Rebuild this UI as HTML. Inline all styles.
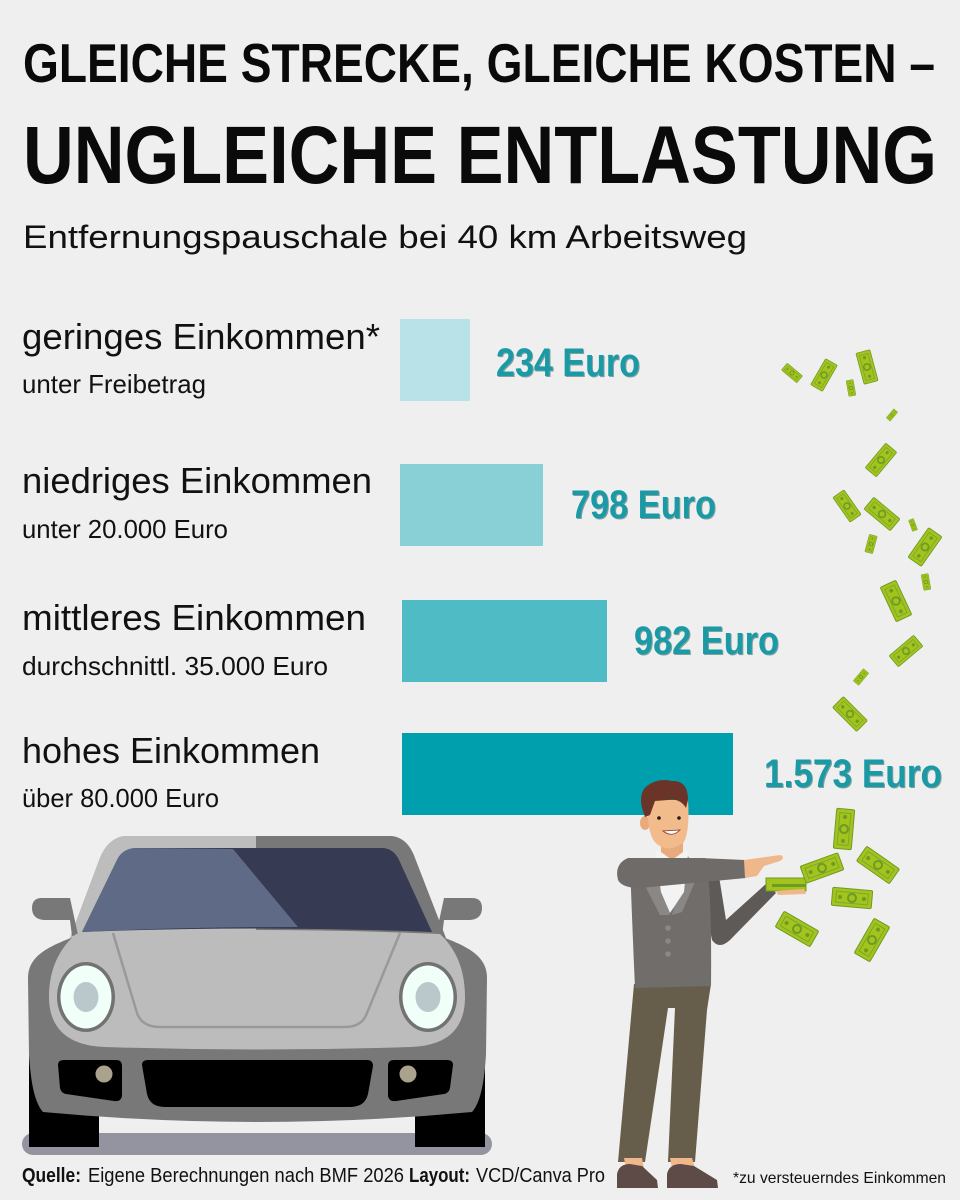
<!DOCTYPE html>
<html><head><meta charset="utf-8">
<style>
html,body{margin:0;padding:0;background:#efefef;}
svg{display:block;}
text{font-family:"Liberation Sans",sans-serif;}
</style></head>
<body>
<svg width="960" height="1200" viewBox="0 0 960 1200" xmlns="http://www.w3.org/2000/svg">
<defs>
  <g id="bill">
    <rect x="-20" y="-9" width="40" height="18" rx="1.5" fill="#a3c41d" stroke="#6f9a25" stroke-width="1"/>
    <rect x="-16" y="-5.5" width="32" height="11" fill="none" stroke="#7ea72a" stroke-width="1"/>
    <circle cx="0" cy="0" r="5" fill="#6f9a25"/>
    <circle cx="0" cy="0" r="3" fill="#a3c41d"/>
    <circle cx="-12" cy="0" r="2" fill="#6f9a25"/>
    <circle cx="12" cy="0" r="2" fill="#6f9a25"/>
  </g>
  <clipPath id="leftHalf"><rect x="0" y="0" width="256" height="1200"/></clipPath>
</defs>
<rect x="0" y="0" width="960" height="1200" fill="#efefef"/>

<!-- Title -->
<text x="23" y="82" font-size="55" font-weight="bold" fill="#0a0a0a" textLength="912" lengthAdjust="spacingAndGlyphs">GLEICHE STRECKE, GLEICHE KOSTEN –</text>
<text x="23" y="183" font-size="82" font-weight="bold" fill="#0a0a0a" textLength="914" lengthAdjust="spacingAndGlyphs">UNGLEICHE ENTLASTUNG</text>
<text x="23" y="248" font-size="32" fill="#111" textLength="724" lengthAdjust="spacingAndGlyphs">Entfernungspauschale bei 40 km Arbeitsweg</text>

<!-- Bars -->
<rect x="400" y="319" width="70" height="82" fill="#b8e2e7"/>
<rect x="400" y="464" width="143" height="82" fill="#88d0d6"/>
<rect x="402" y="600" width="205" height="82" fill="#4fbbc5"/>
<rect x="402" y="733" width="331" height="82" fill="#009fad"/>

<!-- Labels -->
<text x="22" y="349" font-size="36" fill="#111" textLength="358" lengthAdjust="spacingAndGlyphs">geringes Einkommen*</text>
<text x="22" y="393" font-size="26" fill="#111" textLength="184" lengthAdjust="spacingAndGlyphs">unter Freibetrag</text>
<text x="22" y="493" font-size="36" fill="#111" textLength="350" lengthAdjust="spacingAndGlyphs">niedriges Einkommen</text>
<text x="22" y="538" font-size="26" fill="#111" textLength="206" lengthAdjust="spacingAndGlyphs">unter 20.000 Euro</text>
<text x="22" y="630" font-size="36" fill="#111" textLength="344" lengthAdjust="spacingAndGlyphs">mittleres Einkommen</text>
<text x="22" y="675" font-size="26" fill="#111" textLength="306" lengthAdjust="spacingAndGlyphs">durchschnittl. 35.000 Euro</text>
<text x="22" y="763" font-size="36" fill="#111" textLength="298" lengthAdjust="spacingAndGlyphs">hohes Einkommen</text>
<text x="22" y="807" font-size="26" fill="#111" textLength="197" lengthAdjust="spacingAndGlyphs">über 80.000 Euro</text>

<!-- Values -->
<g font-weight="bold" font-size="40">
  <text x="497" y="377" fill="#2f5f63" opacity="0.55" textLength="144" lengthAdjust="spacingAndGlyphs">234 Euro</text>
  <text x="496" y="376" fill="#1a9aa5" textLength="144" lengthAdjust="spacingAndGlyphs">234 Euro</text>
  <text x="572" y="519" fill="#2f5f63" opacity="0.55" textLength="145" lengthAdjust="spacingAndGlyphs">798 Euro</text>
  <text x="571" y="518" fill="#1a9aa5" textLength="145" lengthAdjust="spacingAndGlyphs">798 Euro</text>
  <text x="635" y="655" fill="#2f5f63" opacity="0.55" textLength="145" lengthAdjust="spacingAndGlyphs">982 Euro</text>
  <text x="634" y="654" fill="#1a9aa5" textLength="145" lengthAdjust="spacingAndGlyphs">982 Euro</text>
  <text x="765" y="788" fill="#2f5f63" opacity="0.55" textLength="178" lengthAdjust="spacingAndGlyphs">1.573 Euro</text>
  <text x="764" y="787" fill="#1a9aa5" textLength="178" lengthAdjust="spacingAndGlyphs">1.573 Euro</text>
</g>

<!-- Flying money upper -->
<use href="#bill" transform="translate(792,373) rotate(40) scale(0.5)"/>
<use href="#bill" transform="translate(824,375) rotate(-60) scale(0.75)"/>
<use href="#bill" transform="translate(851,388) rotate(80) scale(0.4)"/>
<use href="#bill" transform="translate(867,367) rotate(75) scale(0.8)"/>
<use href="#bill" transform="translate(892,415) rotate(-50) scale(0.3)"/>
<use href="#bill" transform="translate(881,460) rotate(-50) scale(0.8)"/>
<use href="#bill" transform="translate(847,506) rotate(55) scale(0.75)"/>
<use href="#bill" transform="translate(882,514) rotate(40) scale(0.85)"/>
<use href="#bill" transform="translate(913,525) rotate(70) scale(0.3)"/>
<use href="#bill" transform="translate(871,544) rotate(-75) scale(0.45)"/>
<use href="#bill" transform="translate(925,547) rotate(-55) scale(0.9)"/>
<use href="#bill" transform="translate(926,582) rotate(80) scale(0.4)"/>
<use href="#bill" transform="translate(896,601) rotate(65) scale(0.95)"/>
<use href="#bill" transform="translate(906,651) rotate(-40) scale(0.8)"/>
<use href="#bill" transform="translate(861,677) rotate(-50) scale(0.4)"/>
<use href="#bill" transform="translate(850,714) rotate(45) scale(0.85)"/>

<!-- Car -->
<rect x="22" y="1133" width="470" height="22" rx="11" fill="#9494a0"/>
<rect x="29" y="1040" width="70" height="107" fill="#000"/>
<rect x="415" y="1040" width="70" height="107" fill="#000"/>
<!-- roof -->
<path d="M70,938 L100,858 Q108,838 125,836 L392,836 Q408,838 415,858 L446,938 Z" fill="#787878"/>
<path d="M70,938 L100,858 Q108,838 125,836 L392,836 Q408,838 415,858 L446,938 Z" fill="#bdbdbd" clip-path="url(#leftHalf)"/>
<!-- mirrors -->
<path d="M32,908 Q32,898 42,898 L70,898 L78,935 L72,936 L70,920 L44,920 Q32,919 32,908 Z" fill="#787878"/>
<path d="M482,908 Q482,898 472,898 L444,898 L436,935 L442,936 L444,920 L470,920 Q482,919 482,908 Z" fill="#787878"/>
<!-- windshield -->
<path d="M82,932 L117,860 Q122,849 135,848 L383,848 Q394,849 399,860 L432,932 Q257,925 82,932 Z" fill="#363a52"/>
<path d="M82,932 L117,860 Q122,849 135,848 L233,849 L298,927 Q180,927 82,932 Z" fill="#5f6a86"/>
<!-- body -->
<path d="M28,978 C28,955 50,946 76,936 L440,936 C466,946 487,955 487,978 L486,1055 C484,1085 480,1103 472,1112 Q257,1132 43,1112 C35,1103 31,1085 29,1055 Z" fill="#787878"/>
<!-- hood -->
<path d="M76,934 C60,948 49,968 49,997 C49,1030 70,1046 105,1047 Q257,1052 410,1047 C446,1046 465,1030 465,997 C465,968 455,948 440,934 Q257,926 76,934 Z" fill="#bcbcbc"/>
<path d="M113,933 L137,1013 Q142,1027 160,1027 L345,1027 Q362,1027 367,1013 L400,933" fill="none" stroke="#999" stroke-width="2.5"/>
<!-- headlights -->
<ellipse cx="86" cy="997" rx="29" ry="35" fill="#727272"/>
<ellipse cx="86" cy="997" rx="25.5" ry="31.5" fill="#f0fff8"/>
<ellipse cx="86" cy="997" rx="12.5" ry="15" fill="#bac8cc"/>
<ellipse cx="428" cy="997" rx="29" ry="35" fill="#727272"/>
<ellipse cx="428" cy="997" rx="25.5" ry="31.5" fill="#f0fff8"/>
<ellipse cx="428" cy="997" rx="12.5" ry="15" fill="#bac8cc"/>
<!-- vents -->
<path d="M58,1065 Q58,1060 64,1060 L116,1060 Q122,1060 122,1066 L122,1096 Q121,1102 114,1101 L66,1094 Q61,1093 60,1088 Z" fill="#000"/>
<path d="M142,1065 Q142,1060 148,1060 L367,1060 Q373,1060 373,1066 L368,1094 Q365,1107 350,1107 L165,1107 Q150,1107 147,1094 Z" fill="#000"/>
<path d="M453,1065 Q453,1060 447,1060 L394,1060 Q388,1060 388,1066 L388,1096 Q389,1102 396,1101 L444,1094 Q449,1093 450,1088 Z" fill="#000"/>
<circle cx="104" cy="1074" r="8.5" fill="#a9a38e"/>
<circle cx="408" cy="1074" r="8.5" fill="#a9a38e"/>

<!-- Man -->
<!-- pants -->
<path d="M634,984 L711,984 L707,1010 L695,1162 L668,1162 L675,1008 L668,1008 L645,1162 L618,1162 Z" fill="#665e4a"/>
<!-- feet -->
<path d="M624,1158 L642,1158 L644,1168 L626,1168 Z" fill="#f0b88a"/>
<path d="M670,1158 L692,1158 L695,1168 L672,1168 Z" fill="#f0b88a"/>
<!-- shoes -->
<path d="M617,1188 L617,1174 Q619,1164 630,1164 L642,1166 L657,1180 L658,1188 Z" fill="#5e4a46"/>
<path d="M667,1188 L667,1174 Q669,1164 681,1164 L694,1166 L717,1180 L718,1188 Z" fill="#5e4a46"/>
<!-- right (lower) arm -->
<path d="M698,868 L712,940 Q719,950 730,940 L776,893 L767,883 L726,920 L718,870 Z" fill="#5d5a58"/>
<!-- jacket -->
<path d="M630,862 L705,858 Q712,880 711,986 L635,988 Q632,920 630,862 Z" fill="#706d6b"/>
<path d="M655,858 L670,915 L660,915 L642,880 Z" fill="#8a8785"/>
<path d="M688,856 L672,915 L682,912 L698,875 Z" fill="#8a8785"/>
<!-- shirt -->
<path d="M655,851 L688,851 L684,892 L670,913 L661,892 Z" fill="#f3f3f3"/>
<circle cx="668" cy="928" r="2.8" fill="#8a8785"/>
<circle cx="668" cy="941" r="2.8" fill="#8a8785"/>
<circle cx="668" cy="954" r="2.8" fill="#8a8785"/>
<!-- neck -->
<path d="M661,838 L683,838 L683,852 L672,860 L661,852 Z" fill="#e9ab7c"/>
<!-- upper arm horizontal -->
<path d="M628,858 Q614,864 618,880 Q622,888 640,888 L746,878 L745,860 L700,858 Z" fill="#6e6b69"/>
<path d="M744,860 L780,855 Q786,857 780,861 L764,866 L757,876 L745,878 Z" fill="#f0b88a"/>
<!-- head -->
<ellipse cx="645" cy="823" rx="5" ry="7" fill="#e9ab7c"/>
<path d="M648,800 Q646,840 660,846 Q672,852 684,842 Q690,830 688,800 Z" fill="#f1bb8c"/>
<path d="M642,808 Q638,790 650,784 Q660,778 672,781 Q688,780 688,800 L686,808 Q680,798 668,800 L655,801 L650,815 L645,817 Z" fill="#6b3429"/>
<circle cx="659" cy="818" r="1.8" fill="#2a1a14"/>
<circle cx="679" cy="818" r="1.8" fill="#2a1a14"/>
<path d="M663,831 Q672,838 680,830 Z" fill="#fff" stroke="#8a3a2a" stroke-width="0.8"/>
<!-- money in hand -->
<rect x="766" y="878" width="40" height="13" fill="#a3c41d" stroke="#6f9a25" stroke-width="1"/>
<rect x="772" y="884" width="34" height="3" fill="#6f9a25"/>
<path d="M776,891 L804,889 L806,894 L778,895 Z" fill="#f0b88a"/>
<use href="#bill" transform="translate(844,829) rotate(-85)"/>
<use href="#bill" transform="translate(878,865) rotate(35)"/>
<use href="#bill" transform="translate(822,868) rotate(-20)"/>
<use href="#bill" transform="translate(852,898) rotate(5)"/>
<use href="#bill" transform="translate(797,929) rotate(30)"/>
<use href="#bill" transform="translate(872,940) rotate(-60)"/>

<!-- Footer -->
<text x="22" y="1182" font-size="20" font-weight="bold" fill="#111" textLength="59" lengthAdjust="spacingAndGlyphs">Quelle:</text>
<text x="88" y="1182" font-size="20" fill="#111" textLength="316" lengthAdjust="spacingAndGlyphs">Eigene Berechnungen nach BMF 2026</text>
<text x="409" y="1182" font-size="20" font-weight="bold" fill="#111" textLength="61" lengthAdjust="spacingAndGlyphs">Layout:</text>
<text x="476" y="1182" font-size="20" fill="#111" textLength="129" lengthAdjust="spacingAndGlyphs">VCD/Canva Pro</text>
<text x="733" y="1183" font-size="16" fill="#111" textLength="213" lengthAdjust="spacingAndGlyphs">*zu versteuerndes Einkommen</text>
</svg>
</body></html>
